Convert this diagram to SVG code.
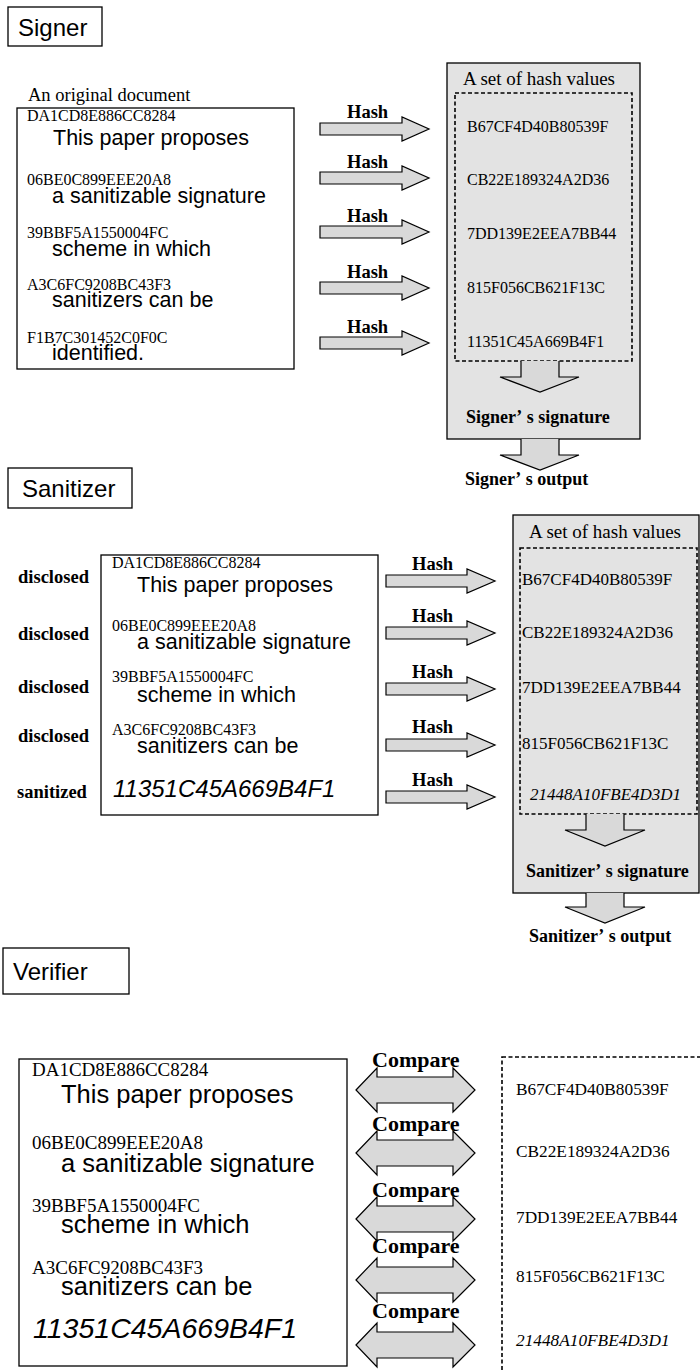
<svg xmlns="http://www.w3.org/2000/svg" width="700" height="1370" viewBox="0 0 700 1370">
<defs>
<style>
.box{fill:#fff;stroke:#000;stroke-width:1.3}
.panel{fill:#e3e3e3;stroke:#000;stroke-width:1.3}
.dash{fill:none;stroke:#000;stroke-width:1.6;stroke-dasharray:4 2.5}
.arr{fill:#d9d9d9;stroke:#000;stroke-width:1.2}
.lbl{font-family:"Liberation Sans",Arial,sans-serif;font-size:24px;fill:#000}
.hex{font-family:"Liberation Serif","Times New Roman",serif;fill:#000}
.body{font-family:"Liberation Sans",Arial,sans-serif;fill:#000}
.bold{font-family:"Liberation Serif","Times New Roman",serif;font-weight:bold;fill:#000}
</style>
</defs>
<rect width="700" height="1370" fill="#fff"/>

<!-- Signer -->
<g id="signer-label">
<rect class="box" x="8" y="7" width="94" height="39"/>
<text class="lbl" x="18" y="36">Signer</text>
</g>
<g id="signer-document">
<text class="hex" x="28" y="101" font-size="18.5">An original document</text>
<rect class="box" x="17" y="108" width="277" height="261"/>
<g class="hex" font-size="16">
<text x="27" y="121">DA1CD8E886CC8284</text>
<text x="27" y="185">06BE0C899EEE20A8</text>
<text x="27" y="238">39BBF5A1550004FC</text>
<text x="27" y="290">A3C6FC9208BC43F3</text>
<text x="27" y="343">F1B7C301452C0F0C</text>
</g>
<g class="body" font-size="21.5">
<text x="53" y="145">This paper proposes</text>
<text x="52" y="203">a sanitizable signature</text>
<text x="52" y="256">scheme in which</text>
<text x="52" y="307">sanitizers can be</text>
<text x="52" y="360">identified.</text>
</g>
</g>
<g id="signer-panel">
<rect class="panel" x="447" y="63" width="193" height="376"/>
<text class="hex" x="463" y="85" font-size="19">A set of hash values</text>
<rect class="dash" x="455" y="93" width="177" height="268"/>
<g class="hex" font-size="16">
<text x="467" y="132">B67CF4D40B80539F</text>
<text x="467" y="185">CB22E189324A2D36</text>
<text x="467" y="239">7DD139E2EEA7BB44</text>
<text x="467" y="293">815F056CB621F13C</text>
<text x="467" y="347">11351C45A669B4F1</text>
</g>
<text class="bold" x="466" y="423" font-size="18">Signer’<tspan dx="5">s signature</tspan></text>
</g>
<g id="signer-output">
<text class="bold" x="465" y="485" font-size="18">Signer’<tspan dx="5">s output</tspan></text>
</g>

<!-- Sanitizer -->
<g id="sanitizer-label">
<rect class="box" x="8" y="468" width="124" height="40"/>
<text class="lbl" x="22" y="497">Sanitizer</text>
</g>
<g id="sanitizer-states" class="bold" font-size="18.5">
<text x="18" y="583">disclosed</text>
<text x="18" y="640">disclosed</text>
<text x="18" y="693">disclosed</text>
<text x="18" y="742">disclosed</text>
<text x="17" y="798">sanitized</text>
</g>
<g id="sanitizer-document">
<rect class="box" x="101" y="555" width="277" height="260"/>
<g class="hex" font-size="16">
<text x="112" y="568">DA1CD8E886CC8284</text>
<text x="112" y="631">06BE0C899EEE20A8</text>
<text x="112" y="682">39BBF5A1550004FC</text>
<text x="112" y="735">A3C6FC9208BC43F3</text>
</g>
<g class="body" font-size="21.5">
<text x="137" y="592">This paper proposes</text>
<text x="137" y="649">a sanitizable signature</text>
<text x="137" y="702">scheme in which</text>
<text x="137" y="753">sanitizers can be</text>
</g>
<text class="body" x="113" y="797" font-size="24" font-style="italic">11351C45A669B4F1</text>
</g>
<g id="sanitizer-panel">
<rect class="panel" x="513" y="515" width="186" height="378"/>
<text class="hex" x="529" y="538" font-size="19">A set of hash values</text>
<rect class="dash" x="520" y="548" width="177" height="266"/>
<g class="hex" font-size="17">
<text x="522" y="585">B67CF4D40B80539F</text>
<text x="522" y="638">CB22E189324A2D36</text>
<text x="522" y="693">7DD139E2EEA7BB44</text>
<text x="522" y="749">815F056CB621F13C</text>
<text x="530" y="800" font-style="italic">21448A10FBE4D3D1</text>
</g>
<text class="bold" x="526" y="877" font-size="18">Sanitizer’<tspan dx="5">s signature</tspan></text>
</g>
<g id="sanitizer-output">
<text class="bold" x="529" y="942" font-size="18">Sanitizer’<tspan dx="5">s output</tspan></text>
</g>

<!-- Verifier -->
<g id="verifier-label">
<rect class="box" x="3" y="948" width="126" height="46"/>
<text class="lbl" x="13" y="980" font-size="28">Verifier</text>
</g>
<g id="verifier-document">
<rect class="box" x="19" y="1059" width="328" height="307"/>
<g class="hex" font-size="19">
<text x="32" y="1076">DA1CD8E886CC8284</text>
<text x="32" y="1149">06BE0C899EEE20A8</text>
<text x="32" y="1212">39BBF5A1550004FC</text>
<text x="32" y="1274">A3C6FC9208BC43F3</text>
</g>
<g class="body" font-size="25.5">
<text x="61" y="1103">This paper proposes</text>
<text x="61" y="1172">a sanitizable signature</text>
<text x="61" y="1233">scheme in which</text>
<text x="61" y="1295">sanitizers can be</text>
</g>
<text class="body" x="33" y="1338" font-size="28.5" font-style="italic">11351C45A669B4F1</text>
</g>
<g id="verifier-hashes">
<rect class="dash" x="502" y="1057" width="210" height="330"/>
<g class="hex" font-size="17.3">
<text x="516" y="1095">B67CF4D40B80539F</text>
<text x="516" y="1157">CB22E189324A2D36</text>
<text x="516" y="1223">7DD139E2EEA7BB44</text>
<text x="516" y="1282">815F056CB621F13C</text>
<text x="516" y="1346" font-style="italic">21448A10FBE4D3D1</text>
</g>
</g>

<!-- Connectors -->
<g id="connectors">
<g class="bold" font-size="18.5">
<text x="347" y="118">Hash</text>
<text x="347" y="168">Hash</text>
<text x="347" y="222">Hash</text>
<text x="347" y="278">Hash</text>
<text x="347" y="333">Hash</text>
</g>
<path class="arr" d="M320,123 H402 V117 L429,129 L402,141 V135 H320 Z"/>
<path class="arr" d="M320,172 H402 V166 L429,178 L402,190 V184 H320 Z"/>
<path class="arr" d="M320,226 H402 V220 L429,232 L402,244 V238 H320 Z"/>
<path class="arr" d="M320,282 H402 V276 L429,288 L402,300 V294 H320 Z"/>
<path class="arr" d="M320,337 H402 V331 L429,343 L402,355 V349 H320 Z"/>
<path class="arr" d="M521,361 V377 H500 L540,392 L579,377 H559 V361"/>
<path class="arr" d="M521,439 V455 H500 L540,470 L579,455 H559 V439"/>

<g class="bold" font-size="18.5">
<text x="412" y="570">Hash</text>
<text x="412" y="622">Hash</text>
<text x="412" y="678">Hash</text>
<text x="412" y="733">Hash</text>
<text x="412" y="786">Hash</text>
</g>
<path class="arr" d="M386,575 H467 V569 L495,581 L467,593 V587 H386 Z"/>
<path class="arr" d="M386,627 H467 V621 L495,633 L467,645 V639 H386 Z"/>
<path class="arr" d="M386,683 H467 V677 L495,689 L467,701 V695 H386 Z"/>
<path class="arr" d="M386,739 H467 V733 L495,745 L467,757 V751 H386 Z"/>
<path class="arr" d="M386,791 H467 V785 L495,797 L467,809 V803 H386 Z"/>
<path class="arr" d="M586,814 V830 H565 L605,846 L645,830 H624 V814"/>
<path class="arr" d="M586,893 V907 H565 L605,923 L645,907 H624 V893"/>

<g class="bold" font-size="22">
<text x="372" y="1067">Compare</text>
<text x="372" y="1131">Compare</text>
<text x="372" y="1197">Compare</text>
<text x="372" y="1253">Compare</text>
<text x="372" y="1318">Compare</text>
</g>
<path class="arr" d="M356,1090 L377,1068 V1077 H453 V1068 L475,1090 L453,1112 V1103 H377 V1112 Z"/>
<path class="arr" d="M356,1153 L377,1131 V1140 H453 V1131 L475,1153 L453,1175 V1166 H377 V1175 Z"/>
<path class="arr" d="M356,1219 L377,1197 V1206 H453 V1197 L475,1219 L453,1241 V1232 H377 V1241 Z"/>
<path class="arr" d="M356,1280 L377,1258 V1267 H453 V1258 L475,1280 L453,1302 V1293 H377 V1302 Z"/>
<path class="arr" d="M356,1345 L377,1323 V1332 H453 V1323 L475,1345 L453,1367 V1358 H377 V1367 Z"/>
</g>
</svg>
